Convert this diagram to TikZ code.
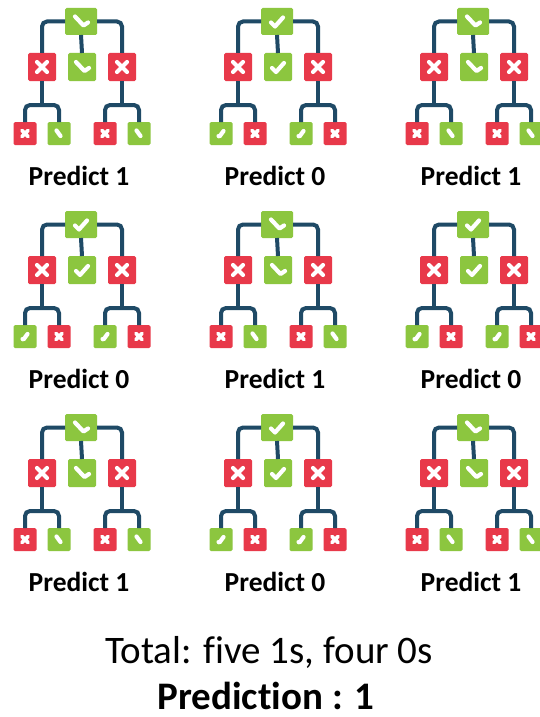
\documentclass[tikz,border=0pt]{standalone}
\usepackage{fontspec}
\setmainfont[Ligatures=NoCommon]{Carlito}
\definecolor{gr}{HTML}{8CC63F}
\definecolor{rd}{HTML}{E8394A}
\definecolor{ln}{HTML}{1F4A66}
\tikzset{
  rootbox/.style={fill=gr, rounded corners=1.5pt, inner sep=0pt, outer sep=0pt, minimum width=32pt, minimum height=27pt},
  midbox/.style={rounded corners=1.5pt, inner sep=0pt, outer sep=0pt, minimum width=28pt, minimum height=28pt},
  leafbox/.style={rounded corners=1.5pt, inner sep=0pt, outer sep=0pt, minimum width=23pt, minimum height=23pt},
  conn/.style={draw=ln, line width=4pt, rounded corners=5pt},
  mk/.style={draw=white, line width=4.2pt, line cap=round, line join=round},
  smk/.style={draw=white, line width=3.6pt, line cap=round, line join=round},
  lab/.style={anchor=base, inner sep=0pt, text depth=0pt, font=\bfseries\fontsize{27.5}{30}\selectfont},
}
\newcommand\bigX[1]{\begin{scope}[shift={(#1.center)}]\draw[mk] (-5,-5)--(5,5) (-5,5)--(5,-5);\end{scope}}
\newcommand\smallX[1]{\begin{scope}[shift={(#1.center)}]\draw[smk] (-3,-3)--(3,3) (-3,3)--(3,-3);\end{scope}}
\newcommand\bigchk[2]{\begin{scope}[shift={(#1.center)}]\ifnum#2=1 \draw[mk] (-6,-5)--(2.5,4)--(7,1);\else\draw[mk] (-6,1)--(-2,5)--(6,-4);\fi\end{scope}}
\newcommand\smallchk[2]{\begin{scope}[shift={(#1.center)}]\ifnum#2=1 \draw[mk] (-2.5,-3)--(1.5,2.5);\else\draw[mk] (-2.5,2.5)--(-1.5,3)--(2.5,-2.5);\fi\end{scope}}
\newcommand\dtree[4]{%
\begin{scope}[shift={(#2,#3)}]
  \node[rootbox] (#1r) at (81,21.5) {};
  \node[midbox, fill=rd] (#1ml) at (42,67) {};
  \node[midbox, fill=gr] (#1mc) at (82,67) {};
  \node[midbox, fill=rd] (#1mr) at (122,67) {};
  \ifnum#4=1
    \node[leafbox, fill=rd] (#1la) at (25,133.5) {};
    \node[leafbox, fill=gr] (#1lb) at (59,133.5) {};
    \node[leafbox, fill=rd] (#1lc) at (105,133.5) {};
    \node[leafbox, fill=gr] (#1ld) at (139,133.5) {};
    \smallX{#1la}\smallchk{#1lb}{1}\smallX{#1lc}\smallchk{#1ld}{1}
  \else
    \node[leafbox, fill=gr] (#1la) at (25,133.5) {};
    \node[leafbox, fill=rd] (#1lb) at (59,133.5) {};
    \node[leafbox, fill=gr] (#1lc) at (105,133.5) {};
    \node[leafbox, fill=rd] (#1ld) at (139,133.5) {};
    \smallchk{#1la}{0}\smallX{#1lb}\smallchk{#1lc}{0}\smallX{#1ld}
  \fi
  \coordinate (#1bl) at (42,105);
  \coordinate (#1br) at (122,105);
  \draw[conn] (#1r.west) -| (#1ml.north);
  \draw[conn] (#1r.east) -| (#1mr.north);
  \draw[conn] (#1r.south) -- (#1mc.north);
  \draw[conn] (#1ml.south) -- (#1bl);
  \draw[conn] (#1mr.south) -- (#1br);
  \draw[conn] (#1la.north) |- (#1bl) -| (#1lb.north);
  \draw[conn] (#1lc.north) |- (#1br) -| (#1ld.north);
  \bigchk{#1r}{#4}\bigchk{#1mc}{#4}\bigX{#1ml}\bigX{#1mr}
  \node[lab] (#1t) at (79,185) {Predict #4};
\end{scope}}
\begin{document}
\begin{tikzpicture}[x=1pt,y=-1pt]
\path[use as bounding box, fill=white] (0,0) rectangle (540,717);
\dtree{a}{0}{0}{1}
\dtree{b}{196}{0}{0}
\dtree{c}{392}{0}{1}
\dtree{d}{0}{203}{0}
\dtree{e}{196}{203}{1}
\dtree{f}{392}{203}{0}
\dtree{g}{0}{406}{1}
\dtree{h}{196}{406}{0}
\dtree{i}{392}{406}{1}
\node[anchor=base, inner sep=0pt, text depth=0pt, font=\fontsize{39}{44}\selectfont] (tot) at (269,663) {Total: five 1s, four 0s};
\node[anchor=base, inner sep=0pt, text depth=0pt, font=\bfseries\fontsize{39}{44}\selectfont] (pred) at (266,709) {Prediction : 1};
\end{tikzpicture}
\end{document}
